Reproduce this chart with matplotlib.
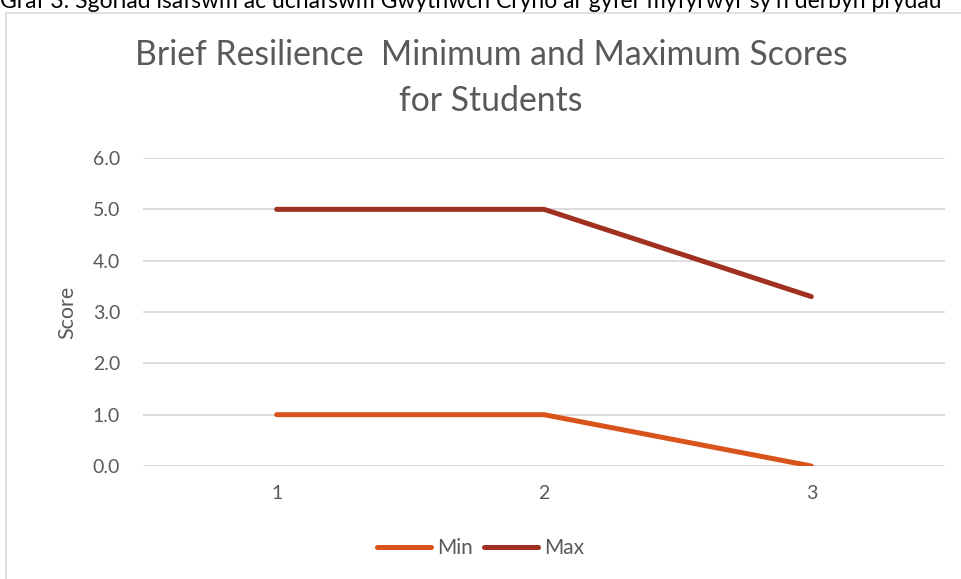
import matplotlib
matplotlib.use("Agg")
from matplotlib import pyplot as plt
from matplotlib.patches import Rectangle

categories = [1, 2, 3]
min_scores = [1.0, 1.0, 0.0]
max_scores = [5.0, 5.0, 3.3]
y_ticks = [0.0, 1.0, 2.0, 3.0, 4.0, 5.0, 6.0]

plt.rcParams['font.family'] = ['Lato', 'DejaVu Sans']
grey = '#595959'

fig = plt.figure(figsize=(9.61, 5.79), dpi=100)
W, H = 961, 579

# caption cut off at the top of the page
fig.text(0.0, 1 - 1 / H, "Graf 3: Sgoriad isafswm ac uchafswm Gwytnwch Cryno ar gyfer myfyrwyr sy'n derbyn prydau",
         fontsize=16.5, color='black', ha='left', va='center')

# chart frame
fig.patches.append(Rectangle((6 / W, -0.1), 1.1, 1 - 13 / H + 0.1, transform=fig.transFigure,
                             fill=False, edgecolor='#d9d9d9', linewidth=1.2))

ax = fig.add_axes([143 / W, 1 - 466 / H, (945 - 143) / W, (466 - 158) / H])
ax.plot(categories, min_scores, color='#d9541a', linewidth=3.6, solid_capstyle='round', label='Min')
ax.plot(categories, max_scores, color='#a0301f', linewidth=3.6, solid_capstyle='round', label='Max')

ax.set_xlim(0.5, 3.5)
ax.set_ylim(0, 6)
ax.set_yticks(y_ticks)
ax.set_yticklabels([f"{v:.1f}" for v in y_ticks])
ax.set_xticks(categories)
ax.grid(axis='y', color='#d9d9d9', linewidth=1.3)
ax.set_axisbelow(True)
for s in ax.spines.values():
    s.set_visible(False)
ax.tick_params(length=0, labelsize=14, colors=grey)
ax.tick_params(axis='y', pad=16.5)
ax.tick_params(axis='x', pad=14)
ax.set_ylabel("Score", fontsize=15.5, color=grey, labelpad=11)

fig.text(491 / W, 1 - 78 / H, "Brief Resilience  Minimum and Maximum Scores\nfor Students",
         fontsize=24.3, color=grey, ha='center', va='center', linespacing=1.55)

ax.legend(loc='center', bbox_to_anchor=(0.5, 1 - 548 / H), bbox_transform=fig.transFigure,
          ncol=2, frameon=False, fontsize=15, labelcolor=grey, handlelength=2.6,
          handletextpad=0.3, columnspacing=0.5)

fig.savefig("out.png", dpi=100)
